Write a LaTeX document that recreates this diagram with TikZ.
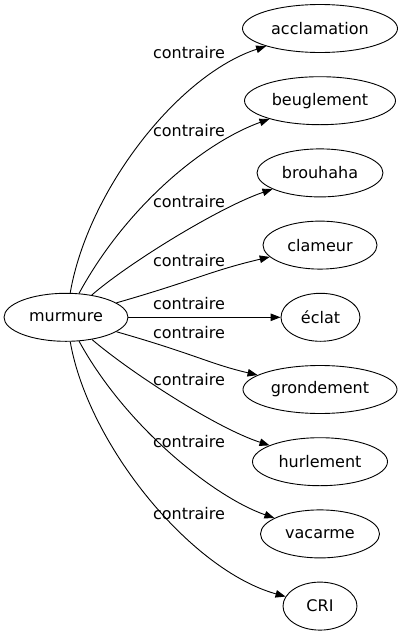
\documentclass[tikz,border=0pt]{standalone}
\usepackage{fontspec}
\setmainfont{DejaVu Sans}
\usetikzlibrary{arrows.meta,shapes.geometric}
\begin{document}
\begin{tikzpicture}[x=1pt,y=-1pt,
  box/.style={ellipse,draw,line width=0.9pt,inner sep=0pt,minimum height=48pt,font=\fontsize{16}{18}\selectfont},
  lbl/.style={inner sep=0pt,font=\fontsize{16}{18}\selectfont},
  edge/.style={line width=0.9pt,-{Triangle[length=10pt,width=7.5pt]}}]
\useasboundingbox (0,0) rectangle (403,635);
\node[box,minimum width=124pt] (m) at (66,317.3) {murmure};
\node[box,minimum width=155pt] (t1) at (320,28.5) {acclamation};
\node[box,minimum width=151pt] (t2) at (320,100.7) {beuglement};
\node[box,minimum width=126pt] (t3) at (320,172.9) {brouhaha};
\node[box,minimum width=114pt] (t4) at (320,245.1) {clameur};
\node[box,minimum width=79pt] (t5) at (320.5,317.3) {éclat};
\node[box,minimum width=154pt] (t6) at (320,389.5) {grondement};
\node[box,minimum width=135pt] (t7) at (320,461.7) {hurlement};
\node[box,minimum width=119pt] (t8) at (320,533.9) {vacarme};
\node[box,minimum width=74pt] (t9) at (320,606.1) {CRI};
\draw[edge] (m) .. controls (88,190) and (178,75) .. (t1);
\draw[edge] (m) .. controls (126,207) and (203,143) .. (t2);
\draw[edge] (m) .. controls (130,262) and (220,207) .. (t3);
\draw[edge] (m) .. controls (196,280) and (210,271) .. (t4);
\draw[edge] (m) -- (t5);
\draw[edge] (m) .. controls (196,354.5) and (210,364) .. (t6);
\draw[edge] (m) .. controls (130,372) and (216,428) .. (t7);
\draw[edge] (m) .. controls (126,427) and (214,497) .. (t8);
\draw[edge] (m) .. controls (88,444) and (190,570) .. (t9);
\node[lbl] (l1) at (189,53) {contraire};
\node[lbl] (l2) at (189,131) {contraire};
\node[lbl] (l3) at (189,202) {contraire};
\node[lbl] (l4) at (189,261) {contraire};
\node[lbl] (l5) at (189,304) {contraire};
\node[lbl] (l6) at (189,333) {contraire};
\node[lbl] (l7) at (189,380) {contraire};
\node[lbl] (l8) at (189,442) {contraire};
\node[lbl] (l9) at (189,514) {contraire};
\end{tikzpicture}
\end{document}
